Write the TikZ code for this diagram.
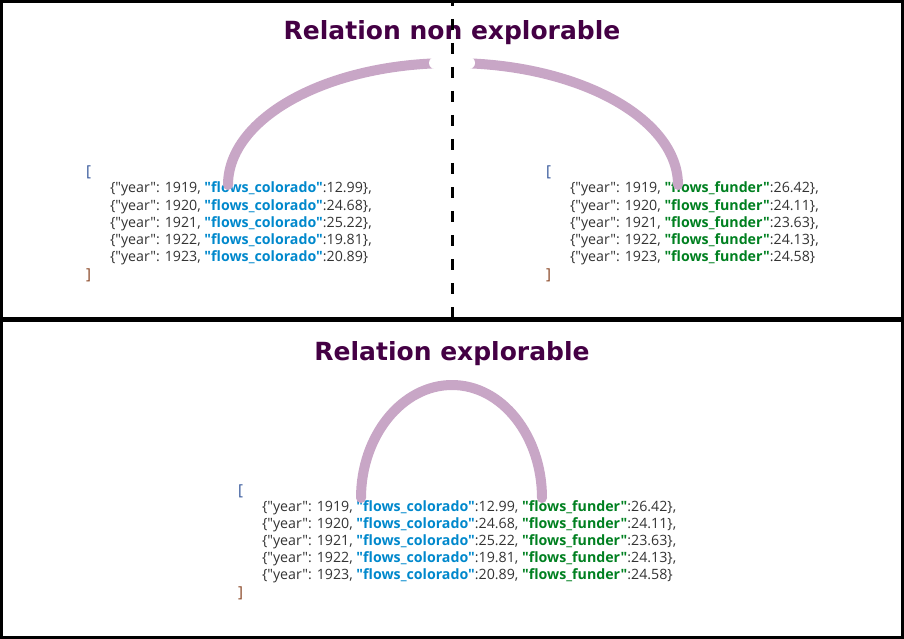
\documentclass[tikz,border=0pt]{standalone}
\usepackage{fontspec}
\setmainfont{Open Sans}[Ligatures=TeXOff]
\newfontfamily\titlefont{DejaVu Sans}
\usetikzlibrary{positioning}

\definecolor{keyblue}{RGB}{0,136,204}
\definecolor{keygreen}{RGB}{0,128,32}
\definecolor{textgray}{RGB}{51,51,51}
\definecolor{arcmauve}{RGB}{200,166,198}
\definecolor{titleplum}{RGB}{68,0,68}
\definecolor{openbr}{RGB}{51,85,153}
\definecolor{closebr}{RGB}{136,68,34}

\newcommand{\colkey}{\textbf{\textcolor{keyblue}{"flows\_colorado"}}}
\newcommand{\funkey}{\textbf{\textcolor{keygreen}{"flows\_funder"}}}

\begin{document}
\begin{tikzpicture}[
        x=1pt,
        y=-1pt,
        every node/.style={inner sep=0pt, outer sep=0pt},
        title/.style={font=\titlefont\bfseries\fontsize{25}{30}\selectfont, text=titleplum, anchor=base},
        row/.style={font=\fontsize{14.2}{17}\selectfont, text=textgray, anchor=base west},
        brk/.style={font=\fontsize{15}{17}\selectfont, anchor=base west},
        panel/.style={draw, line width=3pt},
        link/.style={draw=arcmauve, line width=10pt, line cap=round},
        cut/.style={fill=white, rounded corners=6pt, minimum width=46pt, minimum height=12pt},
        split/.style={line width=3pt, dash pattern=on 11pt off 13pt, dash phase=5pt}
    ]
        \useasboundingbox (0,0) rectangle (904,639);
        \draw[panel] (1.5,1.5) rectangle (902.5,318.5);
        \draw[panel] (1.5,320.5) rectangle (902.5,637.5);

        % top panel
        \node[title] (ttop) at (452,40) {Relation non explorable};
        \node[brk, text=openbr] (lopen) at (86,177) {[};
        \foreach \yr/\va [count=\i] in {1919/12.99,1920/24.68,1921/25.22,1922/19.81,1923/20.89} {
            \node[row] (l\i) at (110,176+17*\i) {\{"year": \yr, \colkey:\va\}\ifnum\i<5,\fi};
        }
        \node[brk, text=closebr] (lclose) at (86,279) {]};

        \node[brk, text=openbr] (ropen) at (546,177) {[};
        \foreach \yr/\vb [count=\i] in {1919/26.42,1920/24.11,1921/23.63,1922/24.13,1923/24.58} {
            \node[row] (r\i) at (570,176+17*\i) {\{"year": \yr, \funkey:\vb\}\ifnum\i<5,\fi};
        }
        \node[brk, text=closebr] (rclose) at (546,279) {]};

        \coordinate (la) at (228,185);
        \coordinate (ra) at (678,185);
        \coordinate (apex) at (452,63);
        \draw[link] (la) .. controls +(0,-67) and +(-125,0) .. (apex) .. controls +(125,0) and +(0,-67) .. (ra);
        \node[cut] (gap) at (apex) {};

        \coordinate (splittop) at (452,0);
        \coordinate (splitbot) at (452,318);
        \draw[split] (splittop) -- (splitbot);

        % bottom panel
        \node[title] (tbot) at (452,360) {Relation explorable};
        \node[brk, text=openbr] (bopen) at (238,495) {[};
        \foreach \yr/\va/\vb [count=\i] in {1919/12.99/26.42,1920/24.68/24.11,1921/25.22/23.63,1922/19.81/24.13,1923/20.89/24.58} {
            \node[row] (b\i) at (262,494+17*\i) {\{"year": \yr, \colkey:\va, \funkey:\vb\}\ifnum\i<5,\fi};
        }
        \node[brk, text=closebr] (bclose) at (238,597) {]};

        \coordinate (bl) at (361,498);
        \coordinate (br) at (542,498);
        \coordinate (bapex) at (452,385);
        \draw[link] (bl) .. controls +(0,-62) and +(-50,0) .. (bapex) .. controls +(50,0) and +(0,-62) .. (br);
    \end{tikzpicture}
\end{document}
